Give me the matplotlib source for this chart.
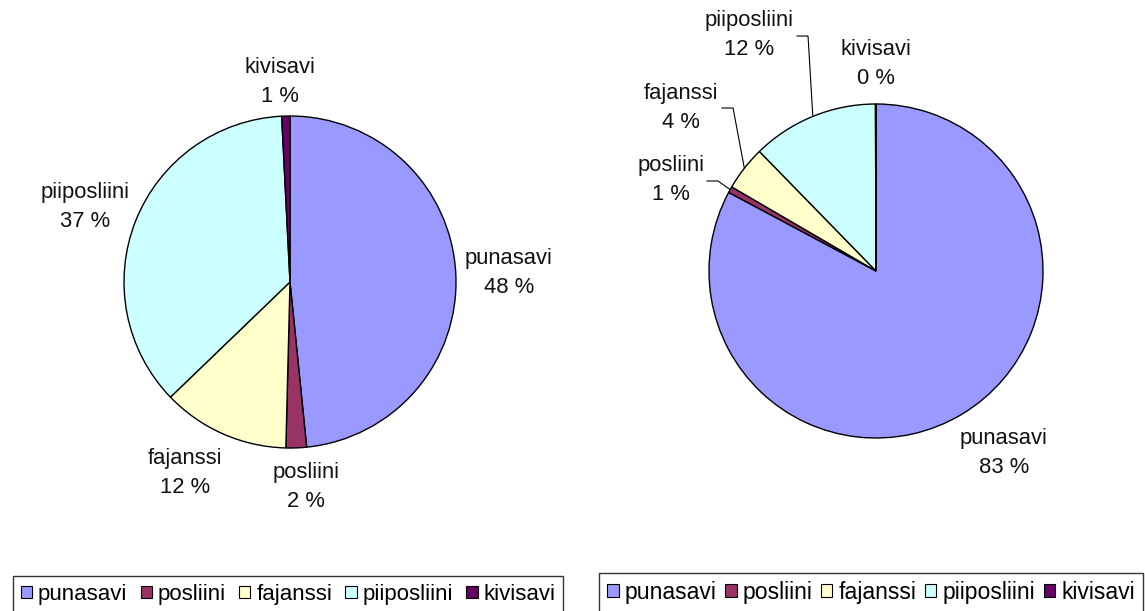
import matplotlib
matplotlib.use('Agg')
import matplotlib.pyplot as plt
import numpy as np
from matplotlib.patches import Patch

plt.rcParams['font.family'] = ['Liberation Sans', 'DejaVu Sans']

categories = ['punasavi', 'posliini', 'fajanssi', 'piiposliini', 'kivisavi']
colors = ['#9999FF', '#993366', '#FFFFCC', '#CCFFFF', '#660066']
left_values = [48.4, 2.0, 12.4, 36.4, 0.8]
left_labels = ['48 %', '2 %', '12 %', '37 %', '1 %']
right_values = [82.8, 0.6, 4.3, 12.25, 0.05]
right_labels = ['83 %', '1 %', '4 %', '12 %', '0 %']

# label positions (in pie radius units)
left_pos = [(1.319, 0.054), (0.096, -1.235), (-0.633, -1.151), (-1.232, 0.452), (-0.06, 1.205)]
right_pos = [(0.766, -1.09), (-1.228, 0.545), (-1.168, 0.976), (-0.760, 1.413), (0.0, 1.24)]
# leader line starts (x, y, x after horizontal step), None = no leader
right_leaders = [None, (-1.012, 0.539, -0.946), (-0.922, 0.976, -0.856),
                 (-0.473, 1.407, -0.407), None]

W, H = 1145, 611
fig = plt.figure(figsize=(W / 100, H / 100), dpi=100)


def draw_pie(cx, cy, r, values, pcts, pos, leaders):
    ax = fig.add_axes([(cx - r * 1.6) / W, 1 - (cy + r * 1.6) / H, r * 3.2 / W, r * 3.2 / H])
    wedges, _ = ax.pie(values, colors=colors, startangle=90, counterclock=False,
                       wedgeprops=dict(edgecolor='black', linewidth=1.0))
    ax.set_xlim(-1.6, 1.6)
    ax.set_ylim(-1.6, 1.6)
    ax.set_aspect('equal')
    ax.axis('off')
    for i, (name, p) in enumerate(zip(categories, pcts)):
        x, y = pos[i]
        ax.text(x, y, name + '\n' + p, ha='center', va='center', fontsize=15.8,
                linespacing=1.45, color='#111111')
        if leaders[i] is not None:
            sx, sy, hx = leaders[i]
            w = wedges[i]
            ang = np.deg2rad((w.theta1 + w.theta2) / 2)
            ax.plot([sx, hx, np.cos(ang)], [sy, sy, np.sin(ang)], color='black', lw=0.8)
    return ax


draw_pie(290, 282, 166, left_values, left_labels, left_pos, [None] * 5)
draw_pie(876, 271, 167, right_values, right_labels, right_pos, right_leaders)

handles = [Patch(facecolor=c, edgecolor='black', linewidth=0.8) for c in colors]
for x0, y0, fs, cs in [(13, 576, 16, 0.6), (599, 573, 16.6, 0.36)]:
    leg = fig.legend(handles, categories, loc='upper left', ncol=5,
                     bbox_to_anchor=(x0 / W, 1 - y0 / H),
                     fontsize=fs, frameon=True, fancybox=False,
                     handlelength=0.5, handleheight=0.5, handletextpad=0.27,
                     columnspacing=cs, borderpad=0.35, borderaxespad=0)
    leg.get_frame().set_edgecolor('black')
    leg.get_frame().set_linewidth(1.0)

fig.savefig('out.png', dpi=100)
